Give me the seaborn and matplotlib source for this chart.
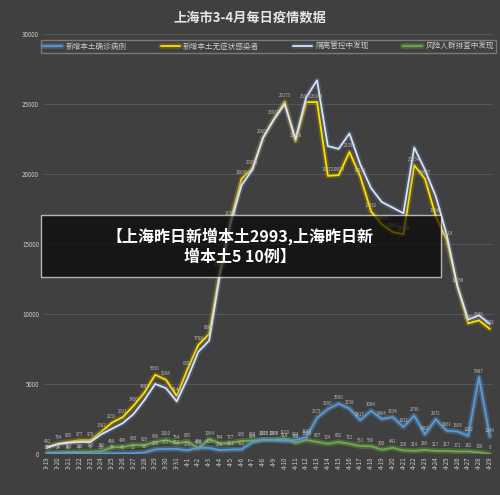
import matplotlib
matplotlib.use("Agg")
import matplotlib.pyplot as plt
import matplotlib.patheffects as pe
import seaborn as sns
import pandas as pd
import numpy as np

dates = [f"3-{d}" for d in range(19, 32)] + [f"4-{d}" for d in range(1, 30)]
confirmed = [17, 24, 31, 4, 4, 29, 38, 45, 50, 96, 326, 355, 358, 260, 438, 425, 268, 311, 322, 824,
             1015, 1006, 914, 994, 1189, 2573, 3200, 3590, 3238, 2417, 3084, 2494, 2634, 1931, 2736,
             1401, 2472, 1661, 1606, 1292, 5487, 1249]
asymptomatic = [492, 734, 865, 977, 979, 1582, 2231, 2631, 3450, 4381, 5656, 5298, 4144, 6051, 7788,
                8581, 13086, 16766, 19660, 20398, 22609, 23937, 25173, 22348, 25141, 25146, 19872,
                19923, 21582, 19831, 17332, 16407, 15861, 15698, 20634, 19657, 16983, 15319, 11956,
                9330, 9545, 8932]
isolation = [450, 700, 800, 850, 850, 1400, 1800, 2200, 2850, 3850, 5000, 4700, 3750, 5400, 7300, 8100,
             12800, 16500, 19200, 20300, 22600, 23900, 25000, 22500, 25500, 26700, 22000, 21800, 22900,
             20700, 19000, 18000, 17600, 17200, 21900, 20300, 18400, 15700, 12000, 9600, 9900, 9300]
screening = [59, 77, 110, 130, 140, 180, 488, 496, 650, 625, 836, 1000, 754, 895, 400, 1064, 744, 777,
             935, 950, 1000, 1000, 1100, 788, 1000, 857, 724, 852, 722, 561, 550, 300, 441, 250, 219,
             280, 217, 217, 171, 182, 108, 0]
names = ["新增本土确诊病例", "新增本土无症状感染者", "隔离管控中发现", "风险人群排查中发现"]
colors = ["#5b9bd5", "#f2e600", "#dfe3f0", "#70ad47"]
glows = ["#5b9bd5", "#c08000", "#5b7bb5", "#70ad47"]

sns.set_theme(style="dark")
plt.rcParams['font.family'] = ['Noto Sans CJK SC', 'DejaVu Sans']
bg = "#404040"
fig = plt.figure(figsize=(5, 4.95), dpi=100, facecolor=bg)
ax = fig.add_axes([0.088, 0.083, 0.898, 0.848], facecolor=bg)

x = np.arange(len(dates))
series = [confirmed, asymptomatic, isolation, screening]
df = pd.concat([pd.DataFrame({"x": x, "v": s, "name": n}) for s, n in zip(series, names)])
order = [3, 0, 1, 2]
for i in order:
    sub = df[df["name"] == names[i]]
    sns.lineplot(data=sub, x="x", y="v", ax=ax, color=colors[i], lw=1.3, label=names[i],
                 path_effects=[pe.Stroke(linewidth=4, foreground=glows[i], alpha=0.35), pe.Normal()])
    if i != 2:
        for xi, v in zip(x, series[i]):
            ax.text(xi, v + 250, str(v), fontsize=3.2, color="#bbbbbb", ha="center", va="bottom")

ax.set_xlim(-0.3, len(dates) - 0.7)
ax.set_ylim(0, 30000)
ax.set_yticks(range(0, 30001, 5000))
ax.set_xticks(x)
ax.set_xticklabels(dates, rotation=90, fontsize=4.5, color="#cccccc")
ax.tick_params(axis="y", labelsize=4.5, colors="#cccccc", length=0)
ax.tick_params(axis="x", length=0, pad=2)
ax.set_xlabel("")
ax.set_ylabel("")
ax.grid(axis="y", color="#575757", lw=0.7)
ax.grid(axis="x", visible=False)
for s in ax.spines.values():
    s.set_visible(False)

handles, labels = ax.get_legend_handles_labels()
lm = {l: h for h, l in zip(handles, labels)}
leg = ax.legend([lm[n] for n in names], names, loc="upper center", bbox_to_anchor=(0.5, 0.995),
                ncol=4, fontsize=5.5, frameon=True, handlelength=2.5, columnspacing=4.5,
                borderpad=0.3, handletextpad=0.4)
leg.get_frame().set_facecolor(bg)
leg.get_frame().set_edgecolor("#888888")
leg.get_frame().set_boxstyle("square", pad=0)
for t in leg.get_texts():
    t.set_color("#cccccc")

fig.text(0.5, 0.965, "上海市3-4月每日疫情数据", ha="center", va="center", fontsize=9.5,
         color="#e6e6e6", fontweight="bold")

fig.patches.append(plt.Rectangle((0.082, 0.44), 0.8, 0.125, transform=fig.transFigure,
                                 facecolor="black", alpha=0.65, zorder=10))
fig.text(0.48, 0.503, "【上海昨日新增本土2993,上海昨日新\n增本土5 10例】", ha="center", va="center",
         fontsize=11.5, color="white", fontweight="bold", zorder=11, linespacing=1.3)

fig.savefig("out.png", dpi=100, facecolor=bg)
